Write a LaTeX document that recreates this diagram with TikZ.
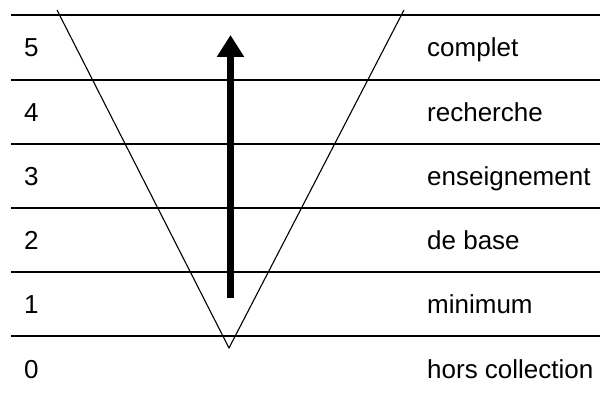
\documentclass[tikz,border=0pt]{standalone}
\usepackage{fontspec}
\setmainfont{Liberation Sans}
\usetikzlibrary{arrows.meta}

\begin{document}
\begin{tikzpicture}[
  x=1pt,y=-1pt,
  sep/.style={line width=2pt},
  vee/.style={line width=1.1pt},
  lbl/.style={anchor=base west,inner sep=0pt,font=\fontsize{26}{30}\selectfont},
  arr/.style={-{Triangle[length=22pt,width=26pt]},line width=7.5pt}
]
\useasboundingbox (0,0) rectangle (600,395);

% lines between the levels
\foreach \y in {15,80,144,208,272,336}
  \draw[sep] (11,\y) -- (600,\y);

% levels and their names
\foreach \n/\txt [count=\i from 0] in
    {5/complet,4/recherche,3/enseignement,2/de base,1/minimum,0/hors collection}
{
  \node[lbl] (num\n) at (24,{57+64.2*\i}) {\n};
  \node[lbl] (nom\n) at (427,{57+64.2*\i}) {\txt};
}

% the V
\coordinate (vleft) at (57,10);
\coordinate (vtip) at (229,348);
\coordinate (vright) at (404,10);
\draw[vee] (vleft) -- (vtip) -- (vright);

% the arrow
\coordinate (arrbot) at (230.5,298);
\coordinate (arrtop) at (230.5,35);
\draw[arr] (arrbot) -- (arrtop);
\end{tikzpicture}
\end{document}
